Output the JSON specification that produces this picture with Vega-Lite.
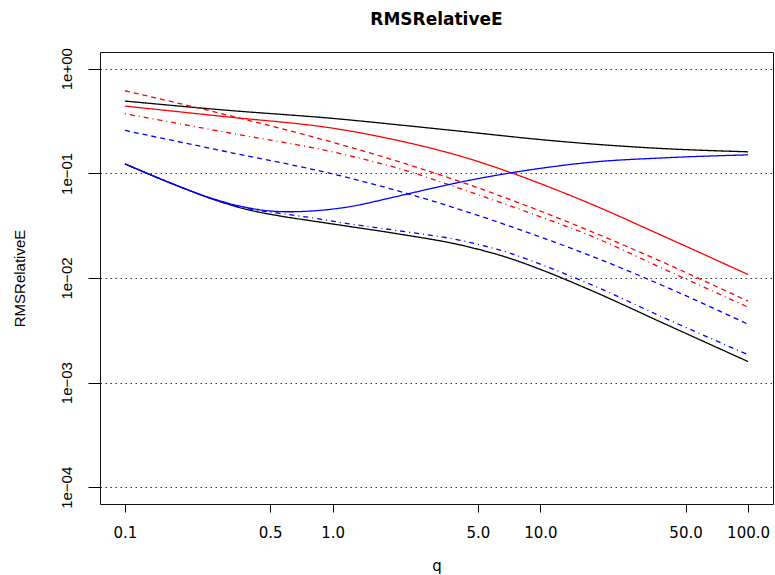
{
  "$schema": "https://vega.github.io/schema/vega-lite/v6.json",
  "autosize": {"type": "none"},
  "padding": {"left": 100, "top": 52, "right": 2, "bottom": 71},
  "width": 673,
  "height": 452,
  "background": "white",
  "title": {"text": "RMSRelativeE", "font": "DejaVu Sans", "fontSize": 17, "fontWeight": "bold", "color": "#000", "anchor": "middle", "frame": "group", "baseline": "alphabetic", "offset": 6},
  "config": {"view": {"stroke": "#111", "strokeWidth": 1}},
  "data": {"values": [
    {"series": "s1", "q": 0.1, "v": 0.4909}, {"series": "s1", "q": 0.29, "v": 0.4055}, {"series": "s1", "q": 1.1, "v": 0.3296}, {"series": "s1", "q": 2, "v": 0.2931}, {"series": "s1", "q": 4.35, "v": 0.25}, {"series": "s1", "q": 10, "v": 0.2104}, {"series": "s1", "q": 17.4, "v": 0.1914}, {"series": "s1", "q": 39, "v": 0.1726}, {"series": "s1", "q": 100, "v": 0.1607},
    {"series": "s2", "q": 0.1, "v": 0.1233}, {"series": "s2", "q": 0.183, "v": 0.0748}, {"series": "s2", "q": 0.265, "v": 0.0566}, {"series": "s2", "q": 0.383, "v": 0.0454}, {"series": "s2", "q": 0.555, "v": 0.0392}, {"series": "s2", "q": 0.8, "v": 0.03508}, {"series": "s2", "q": 1.16, "v": 0.03141}, {"series": "s2", "q": 2, "v": 0.02667}, {"series": "s2", "q": 4.35, "v": 0.02018}, {"series": "s2", "q": 7.3, "v": 0.01517}, {"series": "s2", "q": 10, "v": 0.01208}, {"series": "s2", "q": 17.4, "v": 0.00767}, {"series": "s2", "q": 39, "v": 0.003707}, {"series": "s2", "q": 100, "v": 0.001589},
    {"series": "s3", "q": 0.1, "v": 0.4395}, {"series": "s3", "q": 0.29, "v": 0.3516}, {"series": "s3", "q": 1.1, "v": 0.2624}, {"series": "s3", "q": 2, "v": 0.2089}, {"series": "s3", "q": 4.35, "v": 0.1416}, {"series": "s3", "q": 7.3, "v": 0.1007}, {"series": "s3", "q": 10, "v": 0.0798}, {"series": "s3", "q": 17.4, "v": 0.0513}, {"series": "s3", "q": 39, "v": 0.02518}, {"series": "s3", "q": 100, "v": 0.01079},
    {"series": "s4", "q": 0.1, "v": 0.616}, {"series": "s4", "q": 0.29, "v": 0.3733}, {"series": "s4", "q": 1.1, "v": 0.1879}, {"series": "s4", "q": 2, "v": 0.1327}, {"series": "s4", "q": 4.35, "v": 0.0802}, {"series": "s4", "q": 10, "v": 0.04365}, {"series": "s4", "q": 17.4, "v": 0.02805}, {"series": "s4", "q": 39, "v": 0.01413}, {"series": "s4", "q": 100, "v": 0.005998},
    {"series": "s5", "q": 0.1, "v": 0.3715}, {"series": "s5", "q": 0.29, "v": 0.2518}, {"series": "s5", "q": 1.1, "v": 0.1538}, {"series": "s5", "q": 2, "v": 0.114}, {"series": "s5", "q": 4.35, "v": 0.0689}, {"series": "s5", "q": 10, "v": 0.03846}, {"series": "s5", "q": 17.4, "v": 0.02541}, {"series": "s5", "q": 39, "v": 0.01227}, {"series": "s5", "q": 100, "v": 0.00526},
    {"series": "s6", "q": 0.1, "v": 0.1233}, {"series": "s6", "q": 0.183, "v": 0.0748}, {"series": "s6", "q": 0.265, "v": 0.0573}, {"series": "s6", "q": 0.383, "v": 0.0473}, {"series": "s6", "q": 0.5, "v": 0.0437}, {"series": "s6", "q": 0.62, "v": 0.04295}, {"series": "s6", "q": 0.8, "v": 0.04375}, {"series": "s6", "q": 1.16, "v": 0.04742}, {"series": "s6", "q": 2, "v": 0.0597}, {"series": "s6", "q": 3, "v": 0.0719}, {"series": "s6", "q": 4.35, "v": 0.0843}, {"series": "s6", "q": 7.3, "v": 0.1016}, {"series": "s6", "q": 10, "v": 0.1117}, {"series": "s6", "q": 17.4, "v": 0.1276}, {"series": "s6", "q": 39, "v": 0.1406}, {"series": "s6", "q": 100, "v": 0.1503},
    {"series": "s7", "q": 0.1, "v": 0.257}, {"series": "s7", "q": 0.29, "v": 0.1652}, {"series": "s7", "q": 1.1, "v": 0.0944}, {"series": "s7", "q": 2, "v": 0.0692}, {"series": "s7", "q": 4.35, "v": 0.04345}, {"series": "s7", "q": 10, "v": 0.02466}, {"series": "s7", "q": 17.4, "v": 0.01637}, {"series": "s7", "q": 39, "v": 0.008433}, {"series": "s7", "q": 100, "v": 0.003614},
    {"series": "s8", "q": 0.1, "v": 0.1233}, {"series": "s8", "q": 0.183, "v": 0.0748}, {"series": "s8", "q": 0.265, "v": 0.0566}, {"series": "s8", "q": 0.383, "v": 0.04645}, {"series": "s8", "q": 0.555, "v": 0.0415}, {"series": "s8", "q": 0.8, "v": 0.03758}, {"series": "s8", "q": 1.16, "v": 0.03327}, {"series": "s8", "q": 2, "v": 0.02858}, {"series": "s8", "q": 4.35, "v": 0.02239}, {"series": "s8", "q": 7.3, "v": 0.01702}, {"series": "s8", "q": 10, "v": 0.01355}, {"series": "s8", "q": 17.4, "v": 0.00871}, {"series": "s8", "q": 39, "v": 0.004207}, {"series": "s8", "q": 100, "v": 0.001845}
  ]},
  "mark": {"type": "line", "interpolate": "monotone", "strokeWidth": 1.3},
  "encoding": {
    "x": {"field": "q", "type": "quantitative",
      "scale": {"type": "log", "domain": [0.07586, 131.83], "nice": false, "zero": false},
      "axis": {"values": [0.1, 0.5, 1, 5, 10, 50, 100], "format": ".1f", "grid": false, "domain": false,
        "tickSize": 8, "tickColor": "#000", "tickWidth": 1,
        "labelFont": "DejaVu Sans", "labelFontSize": 15, "labelColor": "#000", "labelBaseline": "top", "labelPadding": 13,
        "labelFlush": false, "labelOverlap": false,
        "title": "q", "titleFont": "DejaVu Sans", "titleFontSize": 15, "titleFontWeight": "normal", "titleColor": "#000",
        "titleBaseline": "alphabetic", "titleAlign": "center", "titleX": 336.5, "titleY": 66}},
    "y": {"field": "v", "type": "quantitative",
      "scale": {"type": "log", "domain": [0.00006918, 1.4454], "nice": false, "zero": false},
      "axis": {"values": [1, 0.1, 0.01, 0.001, 0.0001], "grid": true, "gridDash": [1.5, 3.5], "gridColor": "#333", "gridWidth": 1, "domain": false,
        "labelExpr": "datum.value >= 0.5 ? '1e+00' : datum.value >= 0.05 ? '1e−01' : datum.value >= 0.005 ? '1e−02' : datum.value >= 0.0005 ? '1e−03' : '1e−04'",
        "tickSize": 12, "tickColor": "#000", "tickWidth": 1,
        "labelFont": "Liberation Sans", "labelFontSize": 15, "labelColor": "#000", "labelAngle": 270, "labelAlign": "center", "labelBaseline": "middle", "labelPadding": 22,
        "labelFlush": false, "labelOverlap": false,
        "title": "RMSRelativeE", "titleFont": "Liberation Sans", "titleFontSize": 15, "titleFontWeight": "normal", "titleColor": "#000",
        "titleAngle": 270, "titleAlign": "center", "titleBaseline": "middle", "titleX": -80.5, "titleY": 226}},
    "color": {"field": "series", "type": "nominal", "legend": null,
      "scale": {"domain": ["s1", "s2", "s3", "s4", "s5", "s6", "s7", "s8"], "range": ["#000000", "#000000", "#FF0000", "#FF0000", "#FF0000", "#0000FF", "#0000FF", "#0000FF"]}},
    "strokeDash": {"field": "series", "type": "nominal", "legend": null,
      "scale": {"domain": ["s1", "s2", "s3", "s4", "s5", "s6", "s7", "s8"], "range": [[1, 0], [1, 0], [1, 0], [5, 4], [1, 4, 5, 4], [1, 0], [5, 4], [1, 4, 5, 4]]}}
  }
}
